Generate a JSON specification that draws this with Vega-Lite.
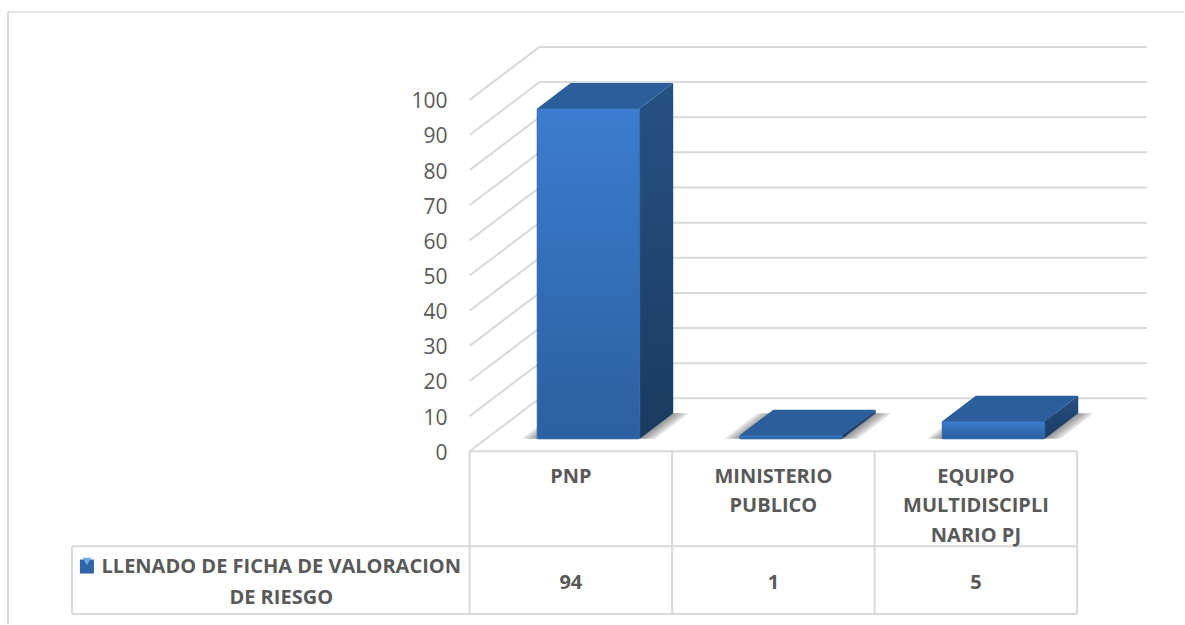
{"$schema":"https://vega.github.io/schema/vega-lite/v6.json","width":1185,"height":625,"padding":0,"autosize":{"type":"fit","contains":"padding"},"background":"white","config":{"view":{"stroke":null},"axisY":{"domain":false,"ticks":false,"grid":false,"labelPadding":0,"labelOffset":2,"labelFont":"Open Sans","labelFontSize":21,"labelColor":"#595959","title":null,"offset":-447,"values":[0,10,20,30,40,50,60,70,80,90,100]}},
"data":{"values":[{"frame":"outline"}]},
"datasets":{
"bars":[{"category":"PNP","idx":0,"value":94},{"category":"MINISTERIO PUBLICO","idx":1,"value":1},{"category":"EQUIPO MULTIDISCIPLINARIO PJ","idx":2,"value":5}],
"ticks":[{"t":0},{"t":10},{"t":20},{"t":30},{"t":40},{"t":50},{"t":60},{"t":70},{"t":80},{"t":90},{"t":100}],
"cols":[{"c":0},{"c":1},{"c":2},{"c":3}],
"labels":[{"idx":0,"line":0,"text":"PNP"},{"idx":1,"line":0,"text":"MINISTERIO"},{"idx":1,"line":1,"text":"PUBLICO"},{"idx":2,"line":0,"text":"EQUIPO"},{"idx":2,"line":1,"text":"MULTIDISCIPLI"},{"idx":2,"line":2,"text":"NARIO PJ"}],
"series":[{"line":0,"text":"LLENADO DE FICHA DE VALORACION"},{"line":1,"text":"DE RIESGO"}]},
"layer":[
{"mark":{"type":"rule","color":"#dcdcdc","strokeWidth":1.5},"encoding":{"x":{"datum":-2.2793,"type":"quantitative","scale":{"domain":[-2.3187,3.5274],"nice":false,"zero":false},"axis":null},"x2":{"datum":3.5274},"y":{"datum":125,"type":"quantitative","scale":{"domain":[-49.15,128.41],"nice":false,"zero":false},"title":null,"axis":{"values":[0,10,20,30,40,50,60,70,80,90,100],"title":null}}}},
{"mark":{"type":"rule","color":"#dcdcdc","strokeWidth":2},"encoding":{"x":{"datum":-2.2793,"type":"quantitative","axis":null},"y":{"datum":125,"type":"quantitative","title":null},"y2":{"datum":-49.15}}},
{"data":{"name":"ticks"},"transform":[{"calculate":"datum.t+15.06","as":"yb"}],"mark":{"type":"rule","color":"#d9d9d9","strokeWidth":2},"encoding":{"x":{"datum":0.3453,"type":"quantitative","axis":null},"x2":{"datum":3.345},"y":{"field":"yb","type":"quantitative","title":null}}},
{"data":{"name":"ticks"},"transform":[{"calculate":"datum.t+15.06","as":"yb"}],"mark":{"type":"rule","color":"#d9d9d9","strokeWidth":2},"encoding":{"x":{"datum":0,"type":"quantitative","axis":null},"x2":{"datum":0.3453},"y":{"field":"t","type":"quantitative","title":null},"y2":{"field":"yb"}}},
{"data":{"name":"bars"},"transform":[{"calculate":"[0.075,0.055,0.035,0.015]","as":"e"},{"flatten":["e"]},{"calculate":"datum.idx+0.334","as":"l"},{"calculate":"datum.l+0.506","as":"r"},{"calculate":"[datum.l-datum.e,datum.l+0.1653-datum.e,datum.r+datum.e,datum.r+0.1653+datum.e]","as":"xs"},{"calculate":"[3.55,3.55,3.55,10.79]","as":"lo"},{"calculate":"[3.55,10.79,10.79,10.79]","as":"hi"},{"flatten":["xs","lo","hi"]}],"mark":{"type":"area","color":"#444444","opacity":0.17},"encoding":{"x":{"field":"xs","type":"quantitative","axis":null},"y":{"field":"lo","type":"quantitative","stack":null,"title":null},"y2":{"field":"hi"},"detail":[{"field":"category"},{"field":"e"}]}},
{"data":{"name":"bars"},"transform":[{"calculate":"datum.idx+0.334","as":"l"},{"calculate":"datum.l+0.506","as":"r"},{"calculate":"3.55+datum.value","as":"t"},{"calculate":"[datum.r,datum.r+0.1653]","as":"xs"},{"calculate":"[3.55,10.79]","as":"lo"},{"calculate":"[datum.t,datum.t+7.24]","as":"hi"},{"flatten":["xs","lo","hi"]}],"mark":{"type":"area","color":{"gradient":"linear","x1":0,"y1":0,"x2":0,"y2":1,"stops":[{"offset":0,"color":"#265184"},{"offset":1,"color":"#1b3a60"}]}},"encoding":{"x":{"field":"xs","type":"quantitative","axis":null},"y":{"field":"lo","type":"quantitative","stack":null,"title":null},"y2":{"field":"hi"},"detail":{"field":"category"}}},
{"data":{"name":"bars"},"transform":[{"calculate":"datum.idx+0.334","as":"l"},{"calculate":"datum.l+0.506","as":"r"},{"calculate":"3.55+datum.value","as":"t"},{"calculate":"[datum.l,datum.l+0.1653,datum.r,datum.r+0.1653]","as":"xs"},{"calculate":"[datum.t,datum.t,datum.t,datum.t+7.24]","as":"lo"},{"calculate":"[datum.t,datum.t+7.24,datum.t+7.24,datum.t+7.24]","as":"hi"},{"flatten":["xs","lo","hi"]}],"mark":{"type":"area","color":"#2b5e9b"},"encoding":{"x":{"field":"xs","type":"quantitative","axis":null},"y":{"field":"lo","type":"quantitative","stack":null,"title":null},"y2":{"field":"hi"},"detail":{"field":"category"}}},
{"data":{"name":"bars"},"transform":[{"calculate":"datum.idx+0.334","as":"l"},{"calculate":"datum.l+0.506","as":"r"},{"calculate":"3.55+datum.value","as":"t"},{"calculate":"3.55","as":"b"}],"mark":{"type":"rect","cornerRadius":1,"stroke":"#2c63a6","strokeWidth":1,"color":{"gradient":"linear","x1":0,"y1":0,"x2":0,"y2":1,"stops":[{"offset":0,"color":"#3b7dcf"},{"offset":1,"color":"#2c5f9f"}]}},"encoding":{"x":{"field":"l","type":"quantitative","axis":null},"x2":{"field":"r"},"y":{"field":"t","type":"quantitative","title":null},"y2":{"field":"b"}}},
{"data":{"name":"cols"},"mark":{"type":"rule","color":"#d9d9d9","strokeWidth":2},"encoding":{"x":{"field":"c","type":"quantitative","axis":null},"y":{"datum":0,"type":"quantitative","title":null},"y2":{"datum":-46.3}}},
{"mark":{"type":"rule","color":"#d9d9d9","strokeWidth":2},"encoding":{"x":{"datum":0,"type":"quantitative","axis":null},"x2":{"datum":3},"y":{"datum":0,"type":"quantitative","title":null}}},
{"mark":{"type":"rule","color":"#d9d9d9","strokeWidth":2},"encoding":{"x":{"datum":-1.9635,"type":"quantitative","axis":null},"x2":{"datum":3},"y":{"datum":-27,"type":"quantitative","title":null}}},
{"mark":{"type":"rule","color":"#d9d9d9","strokeWidth":2},"encoding":{"x":{"datum":-1.9635,"type":"quantitative","axis":null},"x2":{"datum":3},"y":{"datum":-46.3,"type":"quantitative","title":null}}},
{"mark":{"type":"rule","color":"#d9d9d9","strokeWidth":2},"encoding":{"x":{"datum":-1.9635,"type":"quantitative","axis":null},"y":{"datum":-27,"type":"quantitative","title":null},"y2":{"datum":-46.3}}},
{"data":{"name":"labels"},"transform":[{"calculate":"datum.idx+0.5","as":"cx"},{"calculate":"-7.2-datum.line*8.4","as":"cy"}],"mark":{"type":"text","font":"Open Sans","fontWeight":"bold","fontSize":20,"color":"#595959","align":"center","baseline":"middle"},"encoding":{"x":{"field":"cx","type":"quantitative","axis":null},"y":{"field":"cy","type":"quantitative","title":null},"text":{"field":"text"}}},
{"data":{"name":"bars"},"transform":[{"calculate":"datum.idx+0.5","as":"cx"}],"mark":{"type":"text","font":"Open Sans","fontWeight":"bold","fontSize":20,"color":"#595959","align":"center","baseline":"middle"},"encoding":{"x":{"field":"cx","type":"quantitative","axis":null},"y":{"datum":-37.6,"type":"quantitative","title":null},"text":{"field":"value"}}},
{"data":{"name":"series"},"transform":[{"calculate":"-32.9-datum.line*8.8","as":"cy"}],"mark":{"type":"text","font":"Open Sans","fontWeight":"bold","fontSize":20,"color":"#595959","align":"center","baseline":"middle"},"encoding":{"x":{"datum":-0.93,"type":"quantitative","axis":null},"y":{"field":"cy","type":"quantitative","title":null},"text":{"field":"text"}}},
{"mark":{"type":"point","shape":"square","filled":true,"opacity":1,"size":196,"color":"#2f65a8"},"encoding":{"x":{"datum":-1.8895,"type":"quantitative","axis":null},"y":{"datum":-32.8,"type":"quantitative","title":null}}},
{"mark":{"type":"point","shape":"triangle-down","filled":true,"opacity":1,"size":75,"color":"#6aa8e8"},"encoding":{"x":{"datum":-1.8895,"type":"quantitative","axis":null},"y":{"datum":-31.4,"type":"quantitative","title":null}}}
]}
